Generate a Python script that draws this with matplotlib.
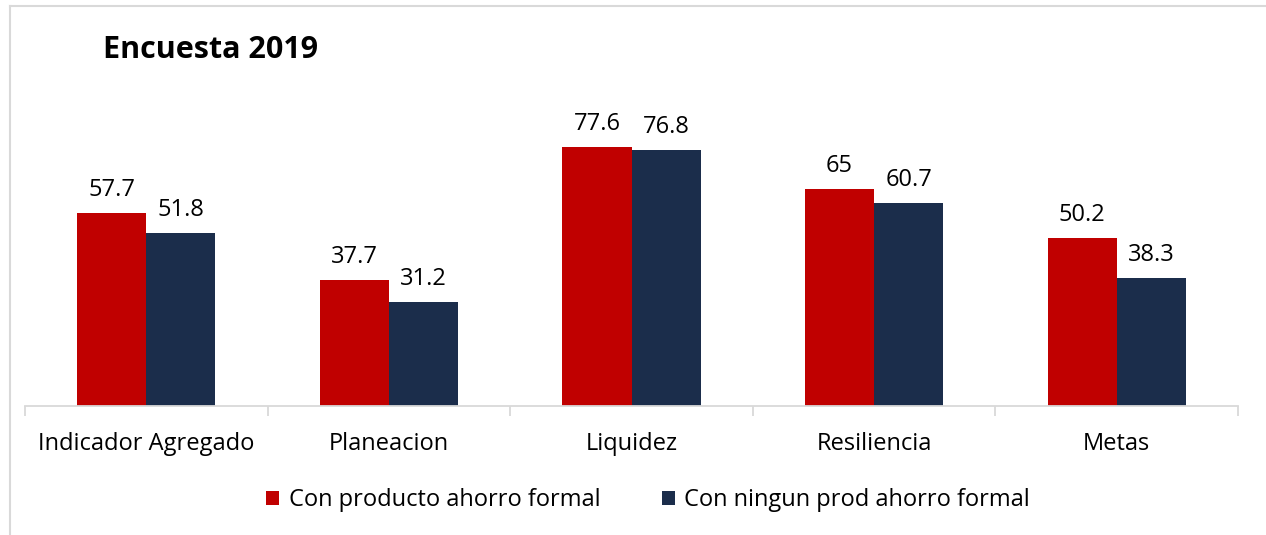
import numpy as np
import matplotlib.pyplot as plt
from matplotlib.lines import Line2D

categorias = ['Indicador Agregado', 'Planeacion', 'Liquidez', 'Resiliencia', 'Metas']
con_producto = [57.7, 37.7, 77.6, 65, 50.2]
sin_producto = [51.8, 31.2, 76.8, 60.7, 38.3]
etiquetas_con = ['57.7', '37.7', '77.6', '65', '50.2']
etiquetas_sin = ['51.8', '31.2', '76.8', '60.7', '38.3']
series = ['Con producto ahorro formal', 'Con ningun prod ahorro formal']

rojo = '#C00000'
azul = '#1B2D4B'
gris = '#D9D9D9'

plt.rcParams['font.family'] = ['Open Sans', 'DejaVu Sans']

fig = plt.figure(figsize=(12.66, 5.35), dpi=100)
ax = fig.add_axes([25/1266, 1-406/535, (1238-25)/1266, 0.5615])

x = np.arange(len(categorias))
w = 0.285
b1 = ax.bar(x - w/2, con_producto, w, color=rojo, label=series[0])
b2 = ax.bar(x + w/2, sin_producto, w, color=azul, label=series[1])

for rect, lab in zip(b1, etiquetas_con):
    ax.annotate(lab, (rect.get_x() + rect.get_width()/2, rect.get_height()),
                xytext=(0, 8), textcoords='offset points', ha='center', va='bottom', fontsize=17)
for rect, lab in zip(b2, etiquetas_sin):
    ax.annotate(lab, (rect.get_x() + rect.get_width()/2, rect.get_height()),
                xytext=(0, 8), textcoords='offset points', ha='center', va='bottom', fontsize=17)

ax.set_xlim(-0.5, len(categorias) - 0.5)
ax.set_ylim(0, 90)
for s in ['top', 'right', 'left']:
    ax.spines[s].set_visible(False)
ax.spines['bottom'].set_color(gris)
ax.spines['bottom'].set_linewidth(1.3)
ax.set_yticks([])
ax.set_xticks(x)
ax.set_xticklabels(categorias, fontsize=17)
ax.tick_params(axis='x', length=0, pad=19)
ax.set_xticks(np.arange(len(categorias) + 1) - 0.5, minor=True)
ax.tick_params(axis='x', which='minor', length=7, color=gris, width=1.3)

fig.text(103/1266, 1-50/535, 'Encuesta 2019', fontsize=22, fontweight='bold', va='center', ha='left')

# marco del grafico
fig.add_artist(Line2D([10/1266, 1], [1-6/535, 1-6/535], color=gris, lw=1.5))
fig.add_artist(Line2D([10/1266, 10/1266], [0, 1-6/535], color=gris, lw=1.5))

fig.legend(handles=[b1, b2], labels=series, loc='center', bbox_to_anchor=(648/1266, 1-500/535),
           ncol=2, frameon=False, fontsize=17, handlelength=0.55, handleheight=0.55,
           handletextpad=0.4, columnspacing=2.6)

fig.savefig('out.png', dpi=100)
